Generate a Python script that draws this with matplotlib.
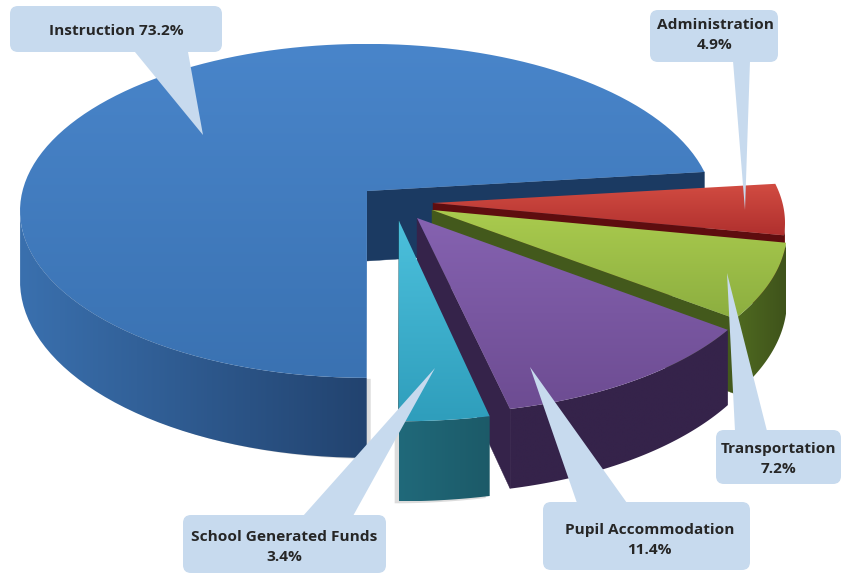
import numpy as np
import matplotlib
matplotlib.use('Agg')
import matplotlib.pyplot as plt
from matplotlib.colors import LinearSegmentedColormap
from matplotlib.patches import Polygon, FancyBboxPatch

categories = ['Instruction', 'School Generated Funds', 'Pupil Accommodation', 'Transportation', 'Administration']
values = [73.2, 3.4, 11.4, 7.2, 4.9]
labels = ['Instruction 73.2%', 'School Generated Funds\n3.4%', 'Pupil Accommodation\n11.4%',
          'Transportation\n7.2%', 'Administration\n4.9%']

# pixel layout of each slice: apex, radii, front skew
apex = [(367, 191), (399, 221), (417, 218), (432, 210), (433, 203)]
radii = [(347, 167), (385, 179), (358, 175), (355, 170), (352, 168)]
skew = [0, 0, 8, 0, 0]
top_cols = [('#4985ca', '#3a72b2'), ('#4cc0dc', '#2f9ebc'), ('#8562b0', '#6d4c92'),
            ('#aacb4e', '#8cae40'), ('#d24c42', '#b0302e')]
wall_cols = [('#3a70ae', '#22436f'), ('#20697a', '#1c5a68'), ('#35234a', '#35234a'),
             ('#4f6a20', '#3f531b'), ('#7c1a18', '#651211')]
edge_cols = ['#1b3a62', '#20697a', '#35234a', '#43591c', '#5e0d0f']
shadow_off = [(4, 1), (-4, 2), None, None, None]

# callouts: box x0, y0, x1, y1, pointer base and tip, text nudge
boxes = [(10, 6, 222, 52), (183, 515, 386, 573), (543, 502, 750, 570), (716, 430, 841, 484), (650, 10, 778, 62)]
pointers = [[(135, 52), (188, 52), (203, 135)], [(303, 516), (353, 516), (435, 368)],
            [(577, 503), (627, 503), (530, 367)], [(735, 431), (767, 431), (727, 273)],
            [(733, 61), (750, 61), (745, 210)]]
text_dy = [2, 3, 4, 2, -1]
text_dx = [0, 0, 3, 0, 1]
draw_order = [0, 4, 3, 2, 1]

START = 6.7
BACK = 0.119  # apex sits above the ellipse centre
DEPTH = 70
FRONT = 10


def arc_points(t0, t1, n=120):
    # ray from the apex to the unit circle, so the front looks bigger
    th = np.radians(np.linspace(t0, t1, n))
    dx, dy = np.cos(th), np.sin(th)
    s = -BACK * dy + np.sqrt((BACK * dy) ** 2 - BACK ** 2 + 1)
    return s * dx, BACK + s * dy


def shade(poly, c0, c1, vertical=True):
    global z
    ax.add_patch(poly)
    poly.set(facecolor='none', edgecolor='none', zorder=z)
    xy = poly.get_xy()
    x0, x1, y0, y1 = xy[:, 0].min(), xy[:, 0].max(), xy[:, 1].min(), xy[:, 1].max()
    cm = LinearSegmentedColormap.from_list('g', [c0, c1])
    grad = np.linspace(0, 1, 128)
    grad = grad[:, None] if vertical else grad[None, :]
    im = ax.imshow(grad, cmap=cm, extent=(x0, x1, y1, y0), aspect='auto', zorder=z, interpolation='bilinear')
    im.set_clip_path(poly)
    z += 1


fig = plt.figure(figsize=(8.42, 5.74), dpi=100)
ax = fig.add_axes([0, 0, 1, 1])
z = 1

edges = START + np.concatenate([[0], np.cumsum(values)]) * 360 / sum(values)

for i in draw_order:
    ax_, ay_ = apex[i]
    rx, ry = radii[i]
    nx, ny = arc_points(edges[i], edges[i + 1])
    px = ax_ + nx * rx + skew[i] * (BACK - ny)
    py = ay_ + BACK * ry - ny * ry
    d = DEPTH - FRONT * ny

    # wall along the first radial edge
    quad = Polygon([(ax_, ay_), (px[0], py[0]), (px[0], py[0] + d[0]), (ax_, ay_ + DEPTH)], closed=True)
    ax.add_patch(quad)
    quad.set(facecolor=edge_cols[i], edgecolor=edge_cols[i], lw=0.3, zorder=z)
    z += 1

    # outer wall, only the front half shows
    vis = ny < 0
    if vis.sum() > 1:
        wx, wy, wd = px[vis], py[vis], d[vis]
        wall = np.vstack([np.c_[wx, wy], np.c_[wx, wy + wd][::-1]])
        if shadow_off[i]:
            ax.add_patch(Polygon(wall + shadow_off[i], closed=True, facecolor='#dcdcdc', edgecolor='none', zorder=z))
            z += 1
        shade(Polygon(wall, closed=True), wall_cols[i][0], wall_cols[i][1], vertical=False)

    # top face
    face = np.vstack([[(ax_, ay_)], np.c_[px, py]])
    shade(Polygon(face, closed=True), top_cols[i][0], top_cols[i][1])

# callouts drawn over the pie
for box, tri, text, dy, dx in zip(boxes, pointers, labels, text_dy, text_dx):
    x0, y0, x1, y1 = box
    ax.add_patch(FancyBboxPatch((x0 + 8, y0 + 8), x1 - x0 - 16, y1 - y0 - 16,
                                boxstyle='round,pad=8,rounding_size=8',
                                facecolor='#c7daee', edgecolor='none', zorder=z))
    ax.add_patch(Polygon(tri, closed=True, facecolor='#c7daee', edgecolor='none', zorder=z))
    ax.text((x0 + x1) / 2 + dx, (y0 + y1) / 2 + dy, text, ha='center', va='center', fontsize=11.1,
            family='Open Sans', fontweight='bold', color='#262626', linespacing=1.5, zorder=z + 1)

ax.set_xlim(0, 842)
ax.set_ylim(574, 0)
ax.axis('off')
fig.savefig('out.png', dpi=100)
